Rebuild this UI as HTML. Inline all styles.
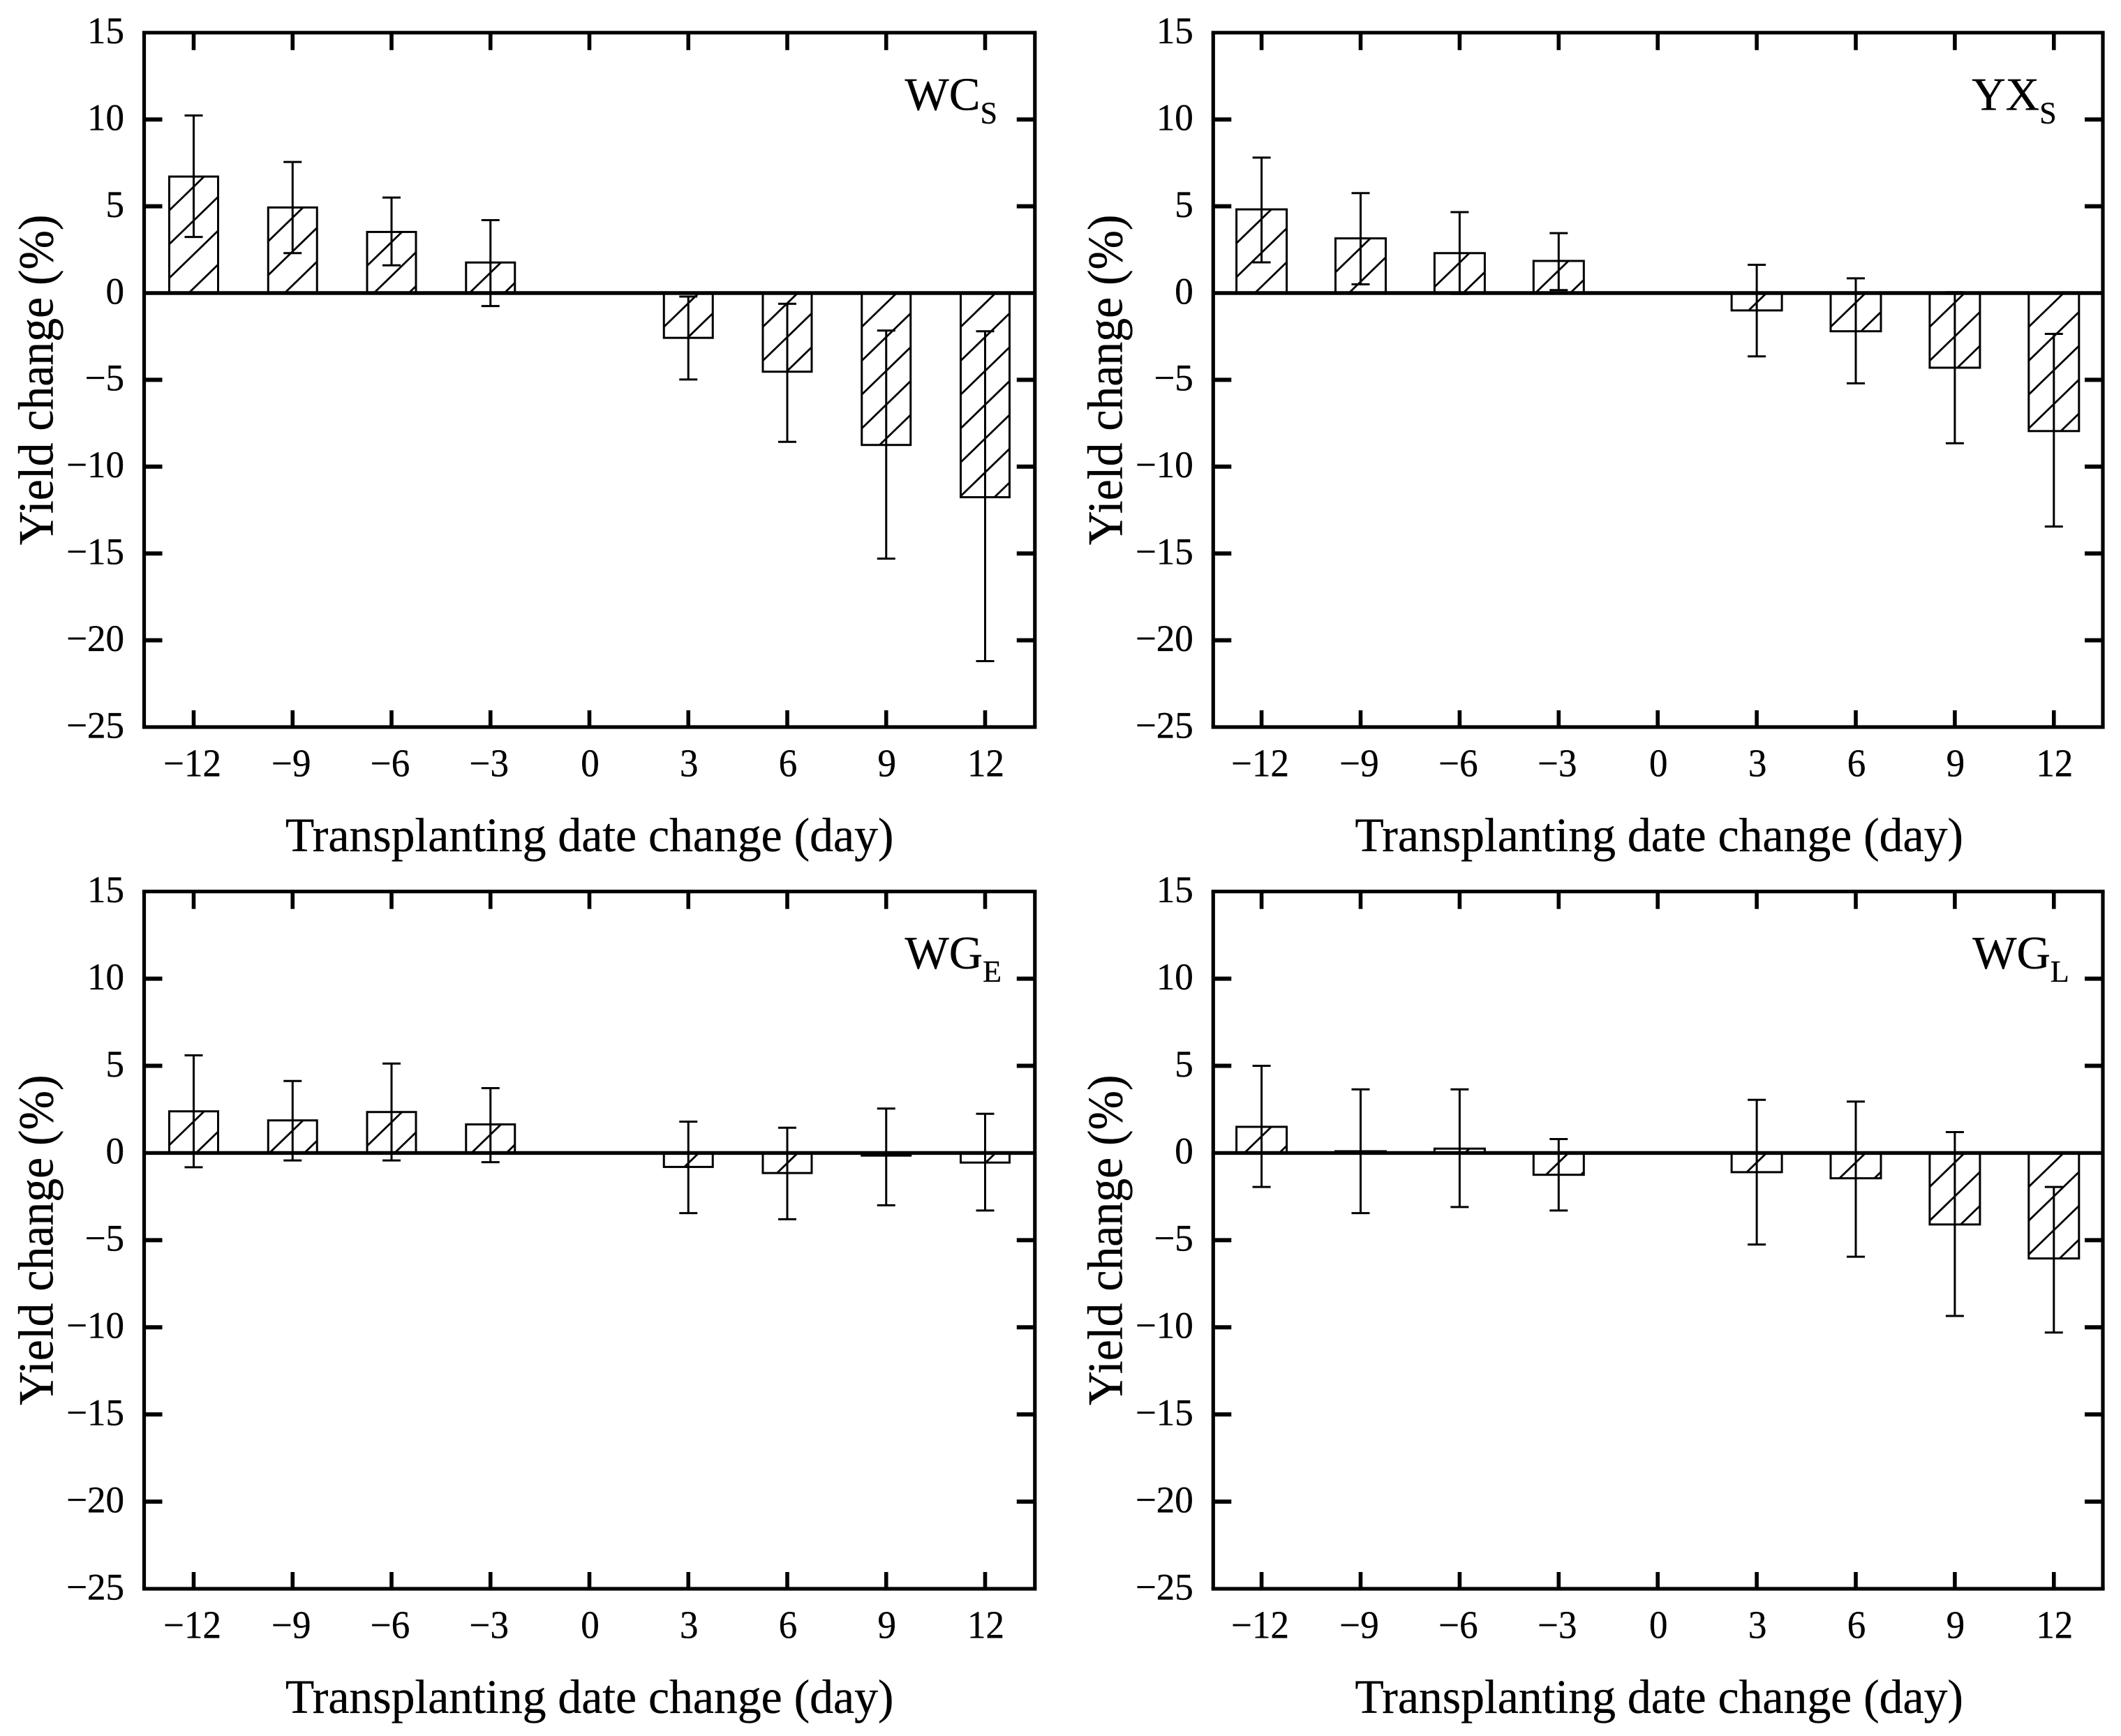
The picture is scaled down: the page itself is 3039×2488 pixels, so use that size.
<!DOCTYPE html>
<html lang="en">
<head>
<meta charset="utf-8">
<title>Yield change versus transplanting date change</title>
<style>
html,body{margin:0;padding:0;background:#fff;}
svg{display:block;font-family:"Liberation Serif","Times New Roman",serif;fill:#000;}
text{stroke:#000;stroke-width:0.35px;}
</style>
</head>
<body>
<svg id="chart" xmlns="http://www.w3.org/2000/svg" width="3039" height="2488" viewBox="0 0 3039 2488"></svg>
<script>
// Shared categories and tick labels
const categories = ['\u221212', '\u22129', '\u22126', '\u22123', '0', '3', '6', '9', '12'];
const yTickValues = [15, 10, 5, 0, -5, -10, -15, -20, -25];
const yTickLabels = ['15', '10', '5', '0', '\u22125', '\u221210', '\u221215', '\u221220', '\u221225'];
const xAxisTitle = 'Transplanting date change (day)';
const yAxisTitle = 'Yield change (%)';

// Panel WCs
const wcsValues = [6.71, 4.93, 3.52, 1.76, null, -2.58, -4.53, -8.75, -11.76];
const wcsUpper = [10.23, 7.55, 5.5, 4.2, null, -0.2, -0.62, -2.16, -2.2];
const wcsLower = [3.23, 2.3, 1.6, -0.75, null, -4.98, -8.57, -15.3, -21.2];

// Panel YXs
const yxsValues = [4.82, 3.15, 2.3, 1.85, null, -1.0, -2.2, -4.3, -7.95];
const yxsUpper = [7.8, 5.76, 4.66, 3.45, null, 1.63, 0.85, 0.05, -2.35];
const yxsLower = [1.77, 0.5, -0.05, 0.17, null, -3.65, -5.2, -8.65, -13.45];

// Panel WGe
const wgeValues = [2.39, 1.87, 2.35, 1.64, null, -0.8, -1.15, -0.15, -0.55];
const wgeUpper = [5.6, 4.13, 5.13, 3.72, null, 1.8, 1.45, 2.55, 2.25];
const wgeLower = [-0.82, -0.43, -0.43, -0.53, null, -3.45, -3.8, -3.0, -3.3];

// Panel WGl
const wglValues = [1.5, 0.1, 0.25, -1.25, null, -1.1, -1.45, -4.1, -6.05];
const wglUpper = [5.0, 3.65, 3.65, 0.8, null, 3.05, 2.95, 1.2, -1.95];
const wglLower = [-1.95, -3.45, -3.1, -3.3, null, -5.25, -5.95, -9.35, -10.3];

const svg = document.getElementById('chart');
const NS = 'http://www.w3.org/2000/svg';

function addLine(parent, name, x1, y1, x2, y2, width) {
  const el = document.createElementNS(NS, 'line');
  
  
  el.setAttribute('x1', x1);
  el.setAttribute('y1', y1);
  el.setAttribute('x2', x2);
  el.setAttribute('y2', y2);
  el.setAttribute('stroke', '#000');
  el.setAttribute('stroke-width', width);
  parent.appendChild(el);
  return el;
}

function addText(parent, name, str, x, y, size, anchor, sy) {
  const el = document.createElementNS(NS, 'text');
  
  
  el.setAttribute('transform', 'translate(' + x + ' ' + y + ') scale(1 ' + (sy || 1) + ')');
  el.setAttribute('font-size', size);
  el.setAttribute('text-anchor', anchor);
  el.textContent = str;
  parent.appendChild(el);
  return el;
}

function addGroup(parent, name) {
  const el = document.createElementNS(NS, 'g');
  
  
  parent.appendChild(el);
  return el;
}

function drawHatch(parent, L, T, R, B) {
  const period = 48.5;
  const slope = 0.97;
  const w = R - L;
  for (let k = 1; k < 60; k++) {
    const y0 = T + k * period;
    if (y0 - slope * w >= B) break;
    let xa = L, ya = y0;
    if (ya > B) { xa = L + (y0 - B) / slope; ya = B; }
    let xb = R, yb = y0 - slope * w;
    if (yb < T) { xb = L + (y0 - T) / slope; yb = T; }
    addLine(parent, 'bar-hatch-line', xa, ya, xb, yb, 2.8);
  }
}

function drawPanel(opts) {
  const g = addGroup(svg, 'panel-' + opts.id);
  const left = opts.left, right = opts.right, top = opts.top, bottom = opts.bottom;
  const scaleY = (bottom - top) / 40;
  const yAt = function (v) { return top + (15 - v) * scaleY; };
  const step = (opts.lastX - opts.firstX) / (categories.length - 1);
  const xAt = function (i) { return opts.firstX + step * i; };
  const barW = opts.barW;
  const zero = yAt(0);

  // bars, hatching, error bars
  opts.values.forEach(function (v, i) {
    if (v === null) return;
    const cx = xAt(i);
    const L = cx - barW / 2, R = cx + barW / 2;
    const T = Math.min(yAt(v), zero), B = Math.max(yAt(v), zero);
    const bar = addGroup(g, 'bar-day-' + categories[i]);
    drawHatch(bar, L, T, R, B);
    const rect = document.createElementNS(NS, 'rect');
    
    
    rect.setAttribute('x', L);
    rect.setAttribute('y', T);
    rect.setAttribute('width', R - L);
    rect.setAttribute('height', B - T);
    rect.setAttribute('fill', 'none');
    rect.setAttribute('stroke', '#000');
    rect.setAttribute('stroke-width', 3);
    bar.appendChild(rect);
    const yu = yAt(opts.upper[i]), yl = yAt(opts.lower[i]);
    addLine(bar, 'error-bar-stem', cx, yu, cx, yl, 3);
    addLine(bar, 'error-bar-cap-upper', cx - 13, yu, cx + 13, yu, 3);
    addLine(bar, 'error-bar-cap-lower', cx - 13, yl, cx + 13, yl, 3);
  });

  // frame
  addLine(g, 'axis-frame-top', left - 2.6, top, right + 2.6, top, 5.2);
  addLine(g, 'axis-frame-bottom', left - 2.6, bottom, right + 2.6, bottom, 5.2);
  addLine(g, 'axis-frame-left', left, top, left, bottom, 5.2);
  addLine(g, 'axis-frame-right', right, top, right, bottom, 5.2);
  addLine(g, 'zero-line', left, zero, right, zero, 5.4);

  // y ticks and labels
  yTickValues.forEach(function (v, i) {
    const y = yAt(v);
    if (v !== 15 && v !== -25 && v !== 0) {
      addLine(g, 'y-tick-left', left, y, left + 26, y, 6);
      addLine(g, 'y-tick-right', right - 26, y, right, y, 6);
    }
    addText(g, 'y-tick-label', yTickLabels[i], left - 28.5, y + 15.3, 53, 'end', 1.02);
  });

  // x ticks and labels
  categories.forEach(function (c, i) {
    const x = xAt(i);
    addLine(g, 'x-tick-top', x, top, x, top + 25, 5.6);
    addLine(g, 'x-tick-bottom', x, bottom - 24, x, bottom, 5.6);
    const nudge = c.charAt(0) === '\u2212' ? -2 : 1;
    addText(g, 'x-tick-label', c, x + nudge, bottom + 70.5, 53, 'middle', 1.05);
  });

  // titles
  addText(g, 'x-axis-title', xAxisTitle, (left + right) / 2 + opts.titleNudge, bottom + 178, 67.7, 'middle', 1.02);
  const ty = addText(g, 'y-axis-title', yAxisTitle, 0, 0, 67.7, 'middle', 1.05);
  ty.setAttribute('transform', 'translate(' + (left - 131) + ' ' + ((top + bottom) / 2) + ') rotate(-90) scale(1 1.05)');

  // panel label with subscript
  const lab = addText(g, 'panel-label', opts.label, left + opts.labelOffset, top + 110.5, 67, 'start', 1);
  const sub = document.createElementNS(NS, 'tspan');
  
  
  sub.setAttribute('dy', 19);
  sub.setAttribute('font-size', 44);
  sub.textContent = opts.sub;
  lab.appendChild(sub);
}

drawPanel({id:'wcs', label:'WC', sub:'S', left:206.5, right:1482.8, top:46.8, bottom:1042, firstX:277.5, lastX:1411.5, barW:70, titleNudge:0, labelOffset:1090, values:wcsValues, upper:wcsUpper, lower:wcsLower});
drawPanel({id:'yxs', label:'YX', sub:'S', left:1738.3, right:3013, top:46.8, bottom:1042, firstX:1807.6, lastX:2942.8, barW:72, titleNudge:1.5, labelOffset:1087, values:yxsValues, upper:yxsUpper, lower:yxsLower});
drawPanel({id:'wge', label:'WG', sub:'E', left:206.5, right:1482.8, top:1277.7, bottom:2277, firstX:277.5, lastX:1411.5, barW:70, titleNudge:0, labelOffset:1090, values:wgeValues, upper:wgeUpper, lower:wgeLower});
drawPanel({id:'wgl', label:'WG', sub:'L', left:1738.3, right:3013, top:1277.7, bottom:2277, firstX:1807.6, lastX:2942.8, barW:72, titleNudge:1.5, labelOffset:1088, values:wglValues, upper:wglUpper, lower:wglLower});
</script>
</body>
</html>
